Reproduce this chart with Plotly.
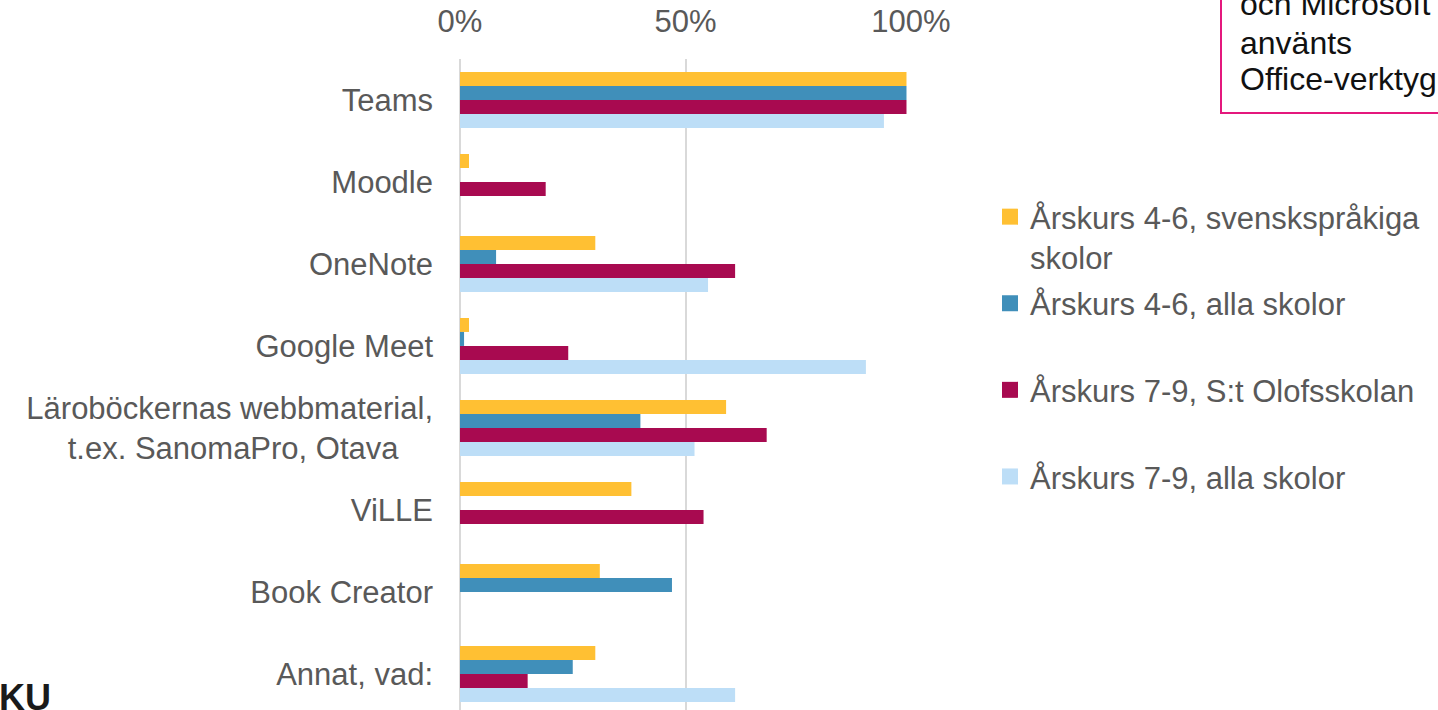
import plotly.graph_objects as go

# data (andel, 0-1)
kategorier = ['Teams', 'Moodle', 'OneNote', 'Google Meet',
              'Läroböckernas webbmaterial,<br>t.ex. SanomaPro, Otava\u00a0\u00a0\u00a0\u00a0',
              'ViLLE', 'Book Creator', 'Annat, vad:']
serier = ['Årskurs 4-6, svenskspråkiga<br>skolor',
          'Årskurs 4-6, alla skolor<br>\u00a0',
          'Årskurs 7-9, S:t Olofsskolan<br>\u00a0',
          'Årskurs 7-9, alla skolor<br>\u00a0']
ak46_sv = [0.99, 0.02, 0.30, 0.02, 0.59, 0.38, 0.31, 0.30]
ak46_alla = [0.99, 0, 0.08, 0.009, 0.40, 0, 0.47, 0.25]
ak79_olof = [0.99, 0.19, 0.61, 0.24, 0.68, 0.54, 0, 0.15]
ak79_alla = [0.94, 0, 0.55, 0.90, 0.52, 0, 0, 0.61]
varden = [ak46_sv, ak46_alla, ak79_olof, ak79_alla]
farger = ['#FFC033', '#408FBA', '#A80A50', '#BDDEF7']

# layout in pixels
W, H = 1438, 710
L, T, B = 460, 59, 0
R = W - 911
pw, ph = W - L - R, H - T - B


def px(x):
    return (x - L) / pw


def py(y):
    return (H - B - y) / ph


fig = go.Figure()
for i in range(len(serier)):
    fig.add_trace(go.Bar(
        y=kategorier, x=varden[i], name=serier[i], orientation='h',
        marker=dict(color=farger[i], line=dict(width=0)),
        showlegend=False, hoverinfo='x+y',
    ))
# legend entries with bigger squares
for i in range(len(serier)):
    fig.add_trace(go.Scatter(
        x=[None], y=[None], mode='markers', name=serier[i],
        marker=dict(symbol='square', size=16, color=farger[i], line=dict(width=0)),
        legendgroup=str(i),
    ))

fig.update_layout(
    width=W, height=H,
    margin=dict(l=L, r=R, t=T, b=B),
    plot_bgcolor='white', paper_bgcolor='white',
    font=dict(family='Liberation Sans, Arial, sans-serif', size=31, color='#595959'),
    barmode='group', bargap=0.317, bargroupgap=0,
    xaxis=dict(side='top', range=[0, 1], dtick=0.5, tickformat='.0%',
               showgrid=True, gridcolor='#d9d9d9', gridwidth=1.5,
               zeroline=True, zerolinecolor='#d9d9d9', zerolinewidth=1.5,
               showline=False, ticks='', ticklabelstandoff=20, fixedrange=True),
    yaxis=dict(type='category', range=[7.44, -0.5], showgrid=False,
               ticks='', ticklabelstandoff=26, fixedrange=True),
    legend=dict(x=px(990), y=py(190), xanchor='left', yanchor='top',
                traceorder='grouped', tracegroupgap=3, valign='top',
                font=dict(size=31, color='#595959'), bgcolor='rgba(0,0,0,0)'),
    showlegend=True,
)

# ruta uppe till höger
fig.add_shape(type='rect', xref='paper', yref='paper',
              x0=px(1221), x1=px(1460), y0=py(113), y1=py(-20),
              line=dict(color='#E4187D', width=2), fillcolor='rgba(0,0,0,0)')
for txt, yy in [('och Microsoft', 4), ('använts', 43), ('Office-verktyg', 79)]:
    fig.add_annotation(text=txt, xref='paper', yref='paper', x=px(1238), y=py(yy),
                       xanchor='left', yanchor='middle', showarrow=False,
                       font=dict(size=32, color='#111111'))

# logotyp (beskuren)
fig.add_annotation(text='<b>KU</b>', xref='paper', yref='paper', x=px(-3), y=py(697),
                   xanchor='left', yanchor='middle', showarrow=False,
                   font=dict(size=36, color='#1a1a1a'))

fig.write_html('out.html', config={'displayModeBar': False},
               post_script="document.body.style.margin='0';")
